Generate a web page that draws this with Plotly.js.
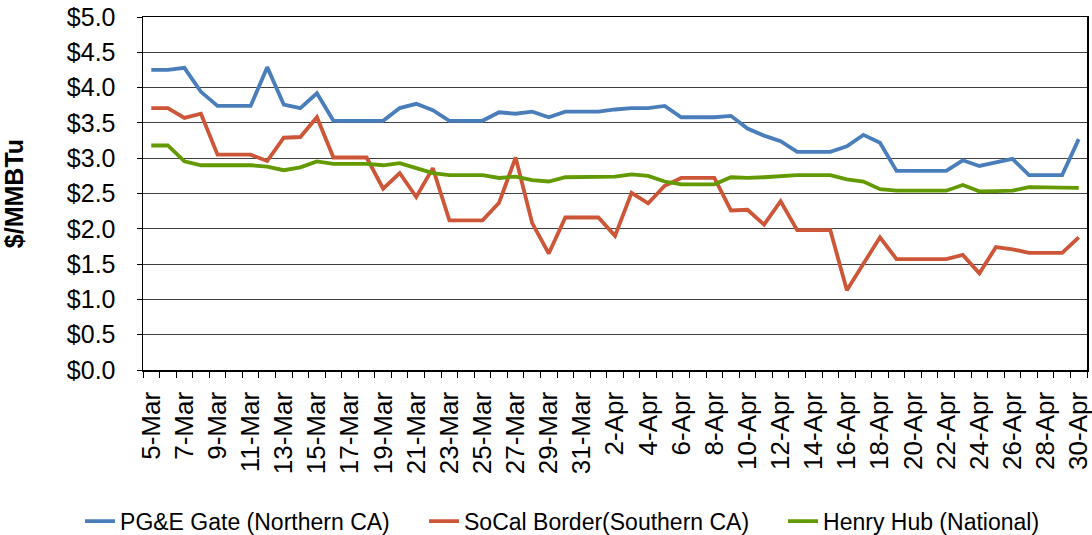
<!DOCTYPE html>
<html>
<head>
<meta charset="utf-8">
<script src="https://cdn.plot.ly/plotly-3.0.1.min.js"></script>
<style>
  html, body { margin: 0; padding: 0; background: #ffffff; }
  #chart { width: 1092px; height: 535px; }
</style>
</head>
<body>
<div id="chart"></div>
<script>
const dates = [
  '5-Mar','6-Mar','7-Mar','8-Mar','9-Mar','10-Mar','11-Mar','12-Mar','13-Mar','14-Mar',
  '15-Mar','16-Mar','17-Mar','18-Mar','19-Mar','20-Mar','21-Mar','22-Mar','23-Mar','24-Mar',
  '25-Mar','26-Mar','27-Mar','28-Mar','29-Mar','30-Mar','31-Mar',
  '1-Apr','2-Apr','3-Apr','4-Apr','5-Apr','6-Apr','7-Apr','8-Apr','9-Apr','10-Apr',
  '11-Apr','12-Apr','13-Apr','14-Apr','15-Apr','16-Apr','17-Apr','18-Apr','19-Apr','20-Apr',
  '21-Apr','22-Apr','23-Apr','24-Apr','25-Apr','26-Apr','27-Apr','28-Apr','29-Apr','30-Apr'
];

const pgeGate = [
  4.25, 4.25, 4.28, 3.94, 3.74, 3.74, 3.74, 4.29, 3.76, 3.71,
  3.92, 3.53, 3.53, 3.53, 3.53, 3.71, 3.77, 3.68, 3.53, 3.53,
  3.53, 3.65, 3.63, 3.66, 3.58, 3.66, 3.66,
  3.66, 3.69, 3.71, 3.71, 3.74, 3.58, 3.58, 3.58, 3.60, 3.42,
  3.32, 3.24, 3.09, 3.09, 3.09, 3.17, 3.33, 3.22, 2.82, 2.82,
  2.82, 2.82, 2.97, 2.89, 2.94, 2.99, 2.76, 2.76, 2.76, 3.27
];

const socalBorder = [
  3.71, 3.71, 3.57, 3.63, 3.05, 3.05, 3.05, 2.96, 3.29, 3.30,
  3.58, 3.01, 3.01, 3.01, 2.57, 2.79, 2.45, 2.86, 2.12, 2.12,
  2.12, 2.37, 3.01, 2.08, 1.65, 2.16, 2.16,
  2.16, 1.90, 2.51, 2.36, 2.61, 2.72, 2.72, 2.72, 2.26, 2.27,
  2.06, 2.39, 1.98, 1.98, 1.98, 1.13, 1.50, 1.88, 1.57, 1.57,
  1.57, 1.57, 1.63, 1.37, 1.74, 1.71, 1.66, 1.66, 1.66, 1.88
];

const henryHub = [
  3.18, 3.18, 2.955, 2.90, 2.90, 2.90, 2.90, 2.88, 2.83, 2.87,
  2.955, 2.92, 2.92, 2.92, 2.90, 2.93, 2.86, 2.79, 2.76, 2.76,
  2.76, 2.72, 2.74, 2.69, 2.67, 2.73, 2.73,
  2.73, 2.74, 2.77, 2.75, 2.67, 2.63, 2.63, 2.63, 2.73, 2.72,
  2.73, 2.75, 2.76, 2.76, 2.76, 2.70, 2.67, 2.56, 2.54, 2.54,
  2.54, 2.54, 2.62, 2.53, 2.535, 2.54, 2.59, 2.59, 2.59, 2.58
];

const seriesNames = ['PG&E Gate (Northern CA)', 'SoCal Border(Southern CA)', 'Henry Hub (National)'];
const yTickValues = [0, 0.5, 1, 1.5, 2, 2.5, 3, 3.5, 4, 4.5, 5];
const yTickLabels = ['$0.0', '$0.5', '$1.0', '$1.5', '$2.0', '$2.5', '$3.0', '$3.5', '$4.0', '$4.5', '$5.0'];

const tickText = dates.map((d, i) => (i % 2 === 0 ? d : ''));
const FONT = '"Liberation Sans", Arial, sans-serif';

const traces = [
  { x: dates, y: pgeGate, name: seriesNames[0], type: 'scatter', mode: 'lines',
    line: { color: '#4A7EBB', width: 3.8 }, legend: 'legend' },
  { x: dates, y: socalBorder, name: seriesNames[1], type: 'scatter', mode: 'lines',
    line: { color: '#CD5638', width: 3.8 }, legend: 'legend2' },
  { x: dates, y: henryHub, name: seriesNames[2], type: 'scatter', mode: 'lines',
    line: { color: '#639A00', width: 3.8 }, legend: 'legend3' }
];

const legendBase = {
  orientation: 'h', yref: 'container', yanchor: 'middle', xanchor: 'left', y: 0.026,
  bgcolor: 'rgba(0,0,0,0)', borderwidth: 0,
  font: { family: FONT, size: 23, color: '#000000' }
};

const layout = {
  width: 1092, height: 535,
  margin: { l: 143, r: 5, t: 17, b: 165, pad: 0 },
  paper_bgcolor: '#ffffff', plot_bgcolor: '#ffffff',
  font: { family: FONT, color: '#000000' },
  showlegend: true,
  legend: Object.assign({}, legendBase, { x: -0.0667 }),
  legend2: Object.assign({}, legendBase, { x: 0.2977 }),
  legend3: Object.assign({}, legendBase, { x: 0.678 }),
  xaxis: {
    type: 'category',
    range: [-0.5, dates.length - 0.5],
    tickmode: 'array', tickvals: dates, ticktext: tickText,
    tickson: 'boundaries',
    tickangle: -90,
    ticks: 'outside', ticklen: 6, tickwidth: 1, tickcolor: '#000000',
    ticklabelstandoff: 10,
    tickfont: { family: FONT, size: 26, color: '#000000' },
    showgrid: false, zeroline: false, automargin: false,
    showline: true, linecolor: '#000000', linewidth: 1.5, mirror: true
  },
  yaxis: {
    range: [0, 5],
    tickmode: 'array', tickvals: yTickValues, ticktext: yTickLabels,
    ticks: 'outside', ticklen: 5, tickwidth: 1, tickcolor: '#000000',
    ticklabelstandoff: 16,
    tickfont: { family: FONT, size: 25, color: '#000000' },
    showgrid: true, gridcolor: '#404040', gridwidth: 1,
    zeroline: false, automargin: false,
    showline: true, linecolor: '#000000', linewidth: 1.5, mirror: true,
    title: { text: '$/MMBTu', standoff: 43, font: { family: FONT, size: 25, color: '#000000', weight: 'bold' } }
  }
};

Plotly.newPlot('chart', traces, layout, { displayModeBar: false, staticPlot: true });
</script>
</body>
</html>
